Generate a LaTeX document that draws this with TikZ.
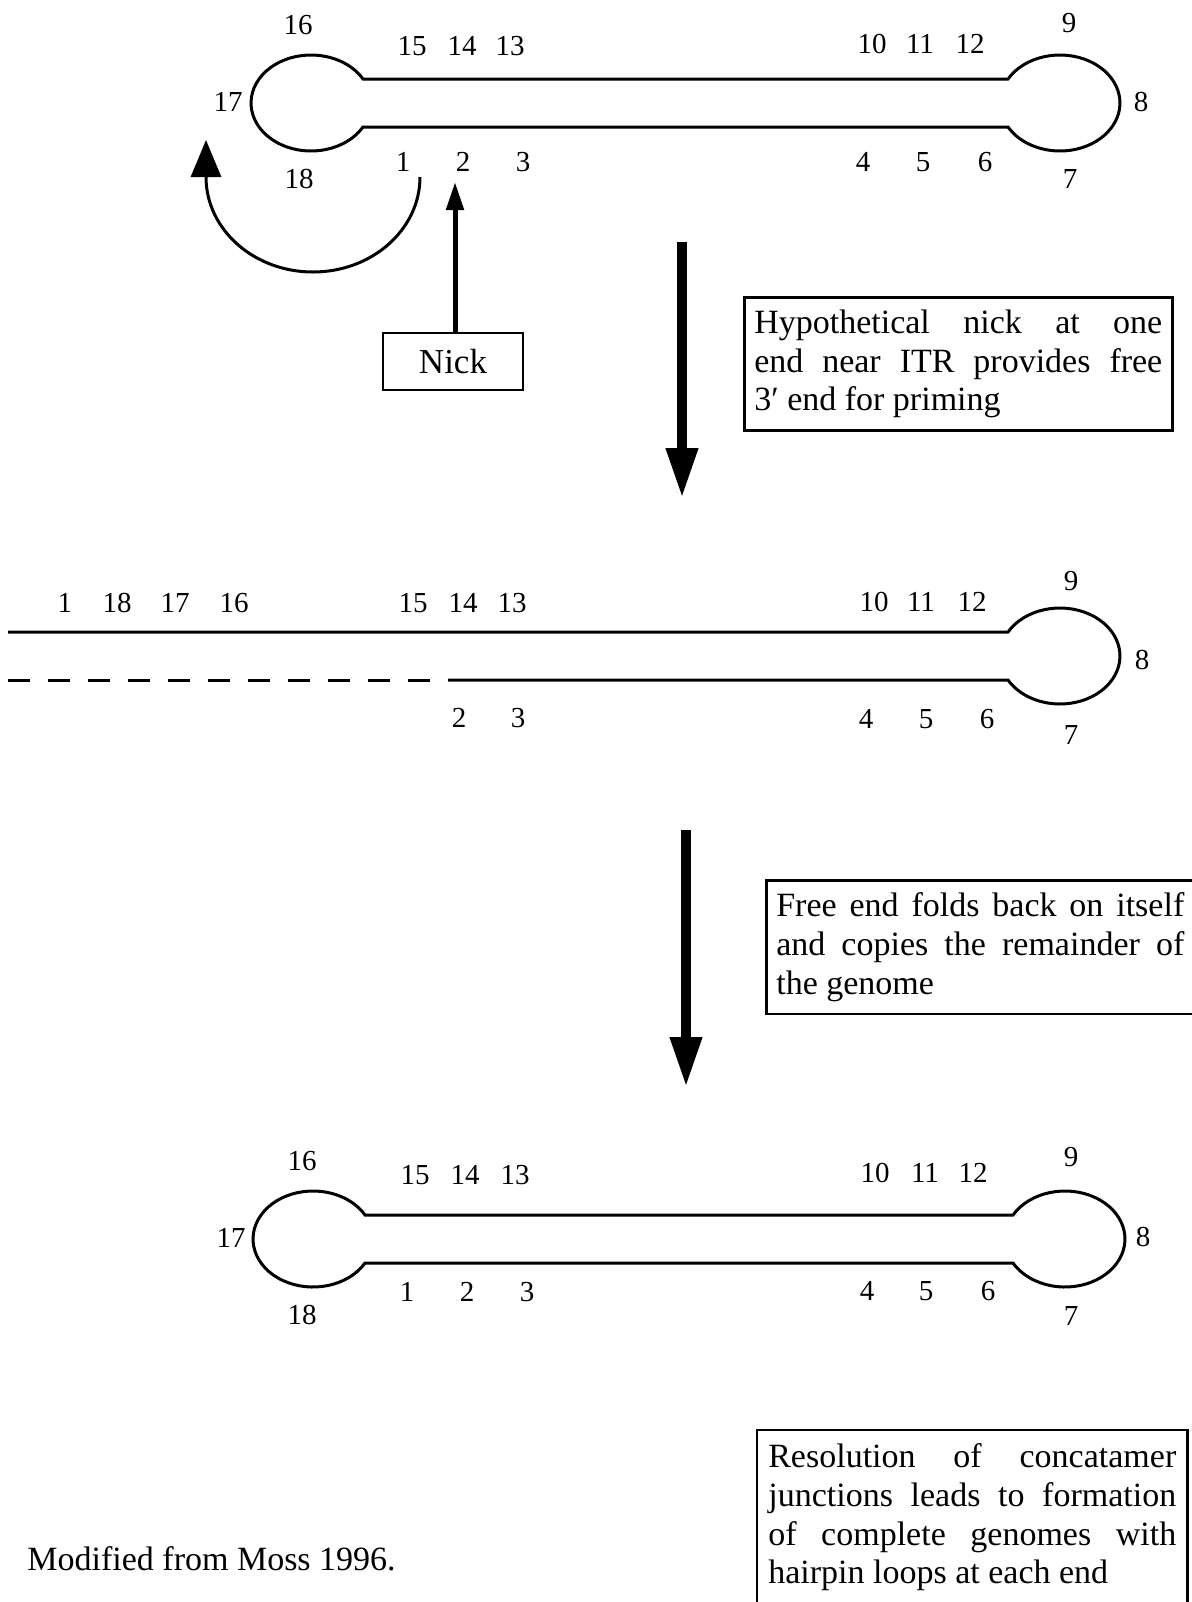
\documentclass[tikz,border=0pt]{standalone}
\usepackage{fontspec}
\setmainfont{Liberation Serif}
\usetikzlibrary{arrows.meta}
\begin{document}
\begin{tikzpicture}[x=0.5pt,y=-0.5pt,
  strand/.style={line width=1.5pt},
  num/.style={font=\fontsize{14.5}{16}\selectfont, inner sep=0pt},
  note/.style={draw, line width=1.3pt, font=\fontsize{17}{19.3}\selectfont,
    text width=204pt, align=justify, inner xsep=5pt, inner ysep=6.3pt, anchor=north west},
  bigarrow/.style={line width=5pt, -{Triangle[length=25pt,width=15pt]}},
  nickarrow/.style={line width=2.5pt, -{Triangle[length=14pt,width=8.5pt]}},
  curlarrow/.style={line width=1.5pt, -{Triangle[length=18.5pt,width=15pt]}}]
\clip (0,0) rectangle (1192,1602);

% ---------- first molecule: hairpins at both ends ----------
\draw[strand] (363,79) -- (1008,79)
  arc[start angle=210,end angle=510,x radius=60,y radius=48] -- (363,127)
  arc[start angle=30,end angle=330,x radius=60,y radius=48] -- cycle;
\node[num] (a16) at (298,25) {16};
\node[num] (a15) at (412,46) {15};
\node[num] (a14) at (462,46) {14};
\node[num] (a13) at (510,46) {13};
\node[num] (a10) at (872,44) {10};
\node[num] (a11) at (920,44) {11};
\node[num] (a12) at (970,44) {12};
\node[num] (a9)  at (1069,23) {9};
\node[num] (a17) at (228,102) {17};
\node[num] (a8)  at (1141,102) {8};
\node[num] (a18) at (299,179) {18};
\node[num] (a1)  at (403,162) {1};
\node[num] (a2)  at (463,162) {2};
\node[num] (a3)  at (523,162) {3};
\node[num] (a4)  at (863,162) {4};
\node[num] (a5)  at (923,162) {5};
\node[num] (a6)  at (985,162) {6};
\node[num] (a7)  at (1070,179) {7};

% free end swinging round
\coordinate (curlstart) at (420,177);
\coordinate (curltip) at (206,140);
\draw[curlarrow] (curlstart) arc[start angle=0,end angle=180,x radius=107,y radius=95] -- (curltip);

% nick
\node[draw, line width=1.3pt, minimum width=70pt, minimum height=28.5pt, inner sep=0pt,
  font=\fontsize{17.5}{19}\selectfont] (nick) at (453,361.5) {Nick};
\coordinate (nicktip) at (455,182);
\draw[nickarrow] (nicktip |- nick.north) -- (nicktip);

% step 1
\coordinate (s1top) at (682,242);
\coordinate (s1tip) at (682,498);
\draw[bigarrow] (s1top) -- (s1tip);
\node[note] (box1) at (743,296) {Hypothetical nick at one\linebreak end near ITR provides free\linebreak 3′ end for priming};

% ---------- second molecule: opened left end ----------
\draw[strand] (8,632) -- (1008,632)
  arc[start angle=210,end angle=510,x radius=60,y radius=48] -- (448,680);
\draw[strand, dash pattern=on 11pt off 9pt] (8,680) -- (448,680);
\node[num] (b1)  at (65,603) {1};
\node[num] (b18) at (117,603) {18};
\node[num] (b17) at (175,603) {17};
\node[num] (b16) at (234,603) {16};
\node[num] (b15) at (413,603) {15};
\node[num] (b14) at (463,603) {14};
\node[num] (b13) at (512,603) {13};
\node[num] (b10) at (874,602) {10};
\node[num] (b11) at (921,602) {11};
\node[num] (b12) at (972,602) {12};
\node[num] (b9)  at (1071,581) {9};
\node[num] (b8)  at (1142,660) {8};
\node[num] (b2)  at (459,718) {2};
\node[num] (b3)  at (518,718) {3};
\node[num] (b4)  at (866,719) {4};
\node[num] (b5)  at (926,719) {5};
\node[num] (b6)  at (987,719) {6};
\node[num] (b7)  at (1071,735) {7};

% step 2
\coordinate (s2top) at (686,830);
\coordinate (s2tip) at (686,1087);
\draw[bigarrow] (s2top) -- (s2tip);
\node[note] (box2) at (765,879) {Free end folds back on itself\linebreak and copies the remainder of\linebreak the genome};

% ---------- third molecule: hairpins restored ----------
\draw[strand] (365,1215) -- (1013,1215)
  arc[start angle=210,end angle=510,x radius=60,y radius=48] -- (365,1263)
  arc[start angle=30,end angle=330,x radius=60,y radius=48] -- cycle;
\node[num] (c16) at (302,1161) {16};
\node[num] (c15) at (415,1175) {15};
\node[num] (c14) at (465,1175) {14};
\node[num] (c13) at (515,1175) {13};
\node[num] (c10) at (875,1173) {10};
\node[num] (c11) at (925,1173) {11};
\node[num] (c12) at (973,1173) {12};
\node[num] (c9)  at (1071,1157) {9};
\node[num] (c17) at (231,1238) {17};
\node[num] (c8)  at (1143,1237) {8};
\node[num] (c18) at (302,1315) {18};
\node[num] (c1)  at (407,1292) {1};
\node[num] (c2)  at (467,1292) {2};
\node[num] (c3)  at (527,1292) {3};
\node[num] (c4)  at (867,1291) {4};
\node[num] (c5)  at (926,1291) {5};
\node[num] (c6)  at (988,1291) {6};
\node[num] (c7)  at (1071,1316) {7};

% step 3 (box runs off the lower edge)
\node[note, draw=none] (box3) at (757,1430) {Resolution of concatamer\linebreak junctions leads to formation\linebreak of complete genomes with\linebreak hairpin loops at each end};
\coordinate (pagebottom) at (0,1650);
\draw[line width=1.3pt] (box3.north west |- pagebottom) -- (box3.north west)
  -- (box3.north east) -- (box3.north east |- pagebottom);

\node[anchor=base west, inner sep=0pt, font=\fontsize{17}{19}\selectfont] (credit) at (27,1570) {Modified from Moss 1996.};
\end{tikzpicture}
\end{document}
